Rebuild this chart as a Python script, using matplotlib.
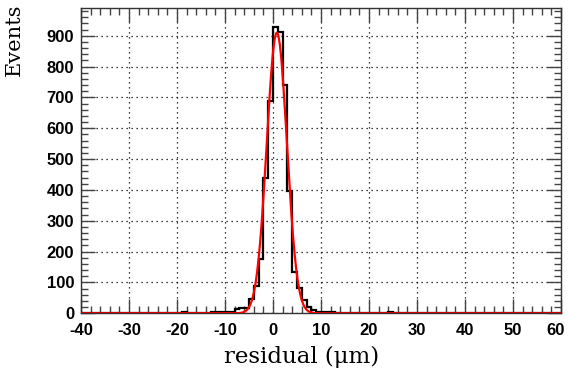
import numpy as np
import matplotlib
matplotlib.use('Agg')
import matplotlib.pyplot as plt
import matplotlib.transforms as mtransforms
from matplotlib.ticker import MultipleLocator

plt.rcParams['axes.unicode_minus'] = False

# residual histogram: 1 um bins from -40 to 60 um
bin_edges = np.arange(-40, 61, 1)
first_bin = -19
window_counts = [3, 0, 0, 0, 0, 0, 3, 3, 5, 5, 5, 13, 18, 18, 45, 90, 175, 440,
                 690, 927, 913, 740, 395, 133, 81, 43, 21, 11, 5, 5, 4, 3]
extra_bins = [24]
extra_counts = [3]

# gaussian fit parameters
fit_amp = 910.0
fit_mean = 0.8
fit_sigma = 2.1

counts = np.zeros(len(bin_edges) - 1)
i0 = first_bin - bin_edges[0]
counts[i0:i0 + len(window_counts)] = window_counts
for b, c in zip(extra_bins, extra_counts):
    counts[b - bin_edges[0]] = c

fig = plt.figure(figsize=(5.68, 3.79), dpi=100)
ax = fig.add_axes([81 / 568, 1 - 313.3 / 379, (561 - 81) / 568, (313.3 - 8) / 379])

ax.stairs(counts, bin_edges, color='black', lw=1.6, zorder=3)
xf = np.linspace(-40, 60, 1001)
ax.plot(xf, fit_amp * np.exp(-0.5 * ((xf - fit_mean) / fit_sigma) ** 2),
        color='red', lw=1.6, zorder=4)

ax.set_xlim(-40, 60)
ax.set_ylim(0, 990)
ax.xaxis.set_major_locator(MultipleLocator(10))
ax.xaxis.set_minor_locator(MultipleLocator(2))
ax.yaxis.set_major_locator(MultipleLocator(100))
ax.yaxis.set_minor_locator(MultipleLocator(20))
ax.tick_params(which='both', direction='in', top=True, right=True, color='#444')
ax.tick_params(which='major', length=10, width=1)
ax.tick_params(which='minor', length=5, width=1)
ax.tick_params(axis='x', pad=7)
ax.tick_params(axis='y', pad=5)
for lab in ax.get_xticklabels() + ax.get_yticklabels():
    lab.set_family('Liberation Sans')
    lab.set_fontweight('bold')
    lab.set_fontsize(12)

# keep the last x label inside the canvas
fig.canvas.draw()
last = [t for t in ax.get_xticklabels() if t.get_text() == '60']
for t in last:
    t.set_transform(t.get_transform() + mtransforms.ScaledTranslation(-5 / 100, 0, fig.dpi_scale_trans))

ax.grid(True, which='major', color='black', linestyle=(0, (1, 3)), lw=0.9)
for s in ax.spines.values():
    s.set_linewidth(1.0)
    s.set_color('#333')

fig.text(302 / 568, 1 - 357 / 379, 'residual (μm)', family='DejaVu Serif',
         fontsize=16.5, ha='center', va='center')
fig.text(14 / 568, 1 - 40 / 379, 'Events', family='DejaVu Serif',
         fontsize=15, rotation=90, ha='center', va='center')

fig.savefig('out.png', dpi=100)
